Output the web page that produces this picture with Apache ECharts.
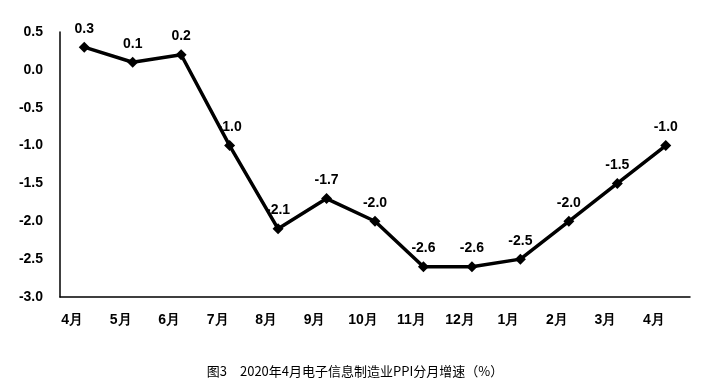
<!DOCTYPE html>
<html><head><meta charset="utf-8">
<script src="https://cdn.jsdelivr.net/npm/echarts@6/dist/echarts.min.js"></script>
<style>html,body{margin:0;padding:0;background:#fff}#c{width:720px;height:390px}</style>
</head><body><div id="c"></div>
<script>
const categories = ['4月','5月','6月','7月','8月','9月','10月','11月','12月','1月','2月','3月','4月'];
const values = [0.3, 0.1, 0.2, -1.0, -2.1, -1.7, -2.0, -2.6, -2.6, -2.5, -2.0, -1.5, -1.0];
const yTicks = { min: -3.0, max: 0.5, interval: 0.5 };
const caption = '图3　2020年4月电子信息制造业PPI分月增速（%）';

const chart = echarts.init(document.getElementById('c'));
chart.setOption({
  animation: false,
  backgroundColor: '#fff',
  title: {
    text: caption, left: 350, top: 360, textAlign: 'center',
    textStyle: { fontFamily: 'Noto Sans CJK SC', fontSize: 13, fontWeight: 'normal', color: '#000' }
  },
  grid: { left: 60, right: 30, top: 32, bottom: 93 },
  xAxis: {
    type: 'category', data: categories, boundaryGap: true,
    axisLine: { onZero: false, lineStyle: { color: '#000', width: 1.5 } },
    axisTick: { show: false },
    axisLabel: { color: '#000', fontFamily: '"Liberation Sans", Arial, sans-serif', fontWeight: 'bold', fontSize: 14, margin: 16, padding: [0, 24, 0, 0] }
  },
  yAxis: {
    type: 'value', min: yTicks.min, max: yTicks.max, interval: yTicks.interval,
    axisLine: { show: true, lineStyle: { color: '#000', width: 1.5 } },
    axisTick: { show: false },
    splitLine: { show: false },
    axisLabel: { color: '#000', fontFamily: '"Liberation Sans", Arial, sans-serif', fontWeight: 'bold', fontSize: 14, margin: 17,
      formatter: v => v.toFixed(1) }
  },
  series: [{
    type: 'line', data: values,
    lineStyle: { color: '#000', width: 3.5 },
    itemStyle: { color: '#000' },
    symbol: 'diamond', symbolSize: 11,
    label: { show: true, position: 'top', distance: 6, color: '#000', fontFamily: '"Liberation Sans", Arial, sans-serif',
      fontWeight: 'bold', fontSize: 14, formatter: p => p.value.toFixed(1) }
  }]
});
</script></body></html>
